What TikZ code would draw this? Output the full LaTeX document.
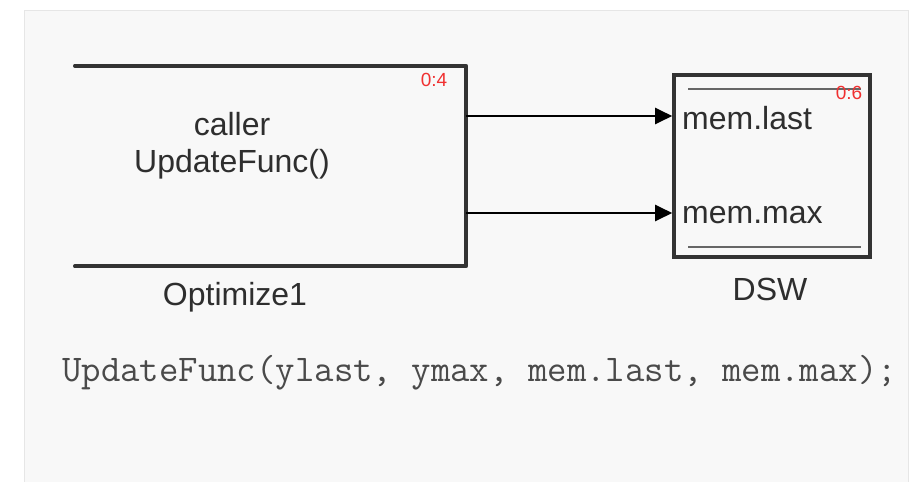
\documentclass[tikz,border=0pt]{standalone}
\usepackage{fontspec}
\setmainfont{Liberation Sans}
\usetikzlibrary{arrows.meta}
\definecolor{panel}{HTML}{F8F8F8}
\definecolor{panelline}{HTML}{E6E6E6}
\definecolor{blk}{HTML}{333333}
\definecolor{txt}{HTML}{2E2E2E}
\definecolor{codec}{HTML}{4A4A4A}
\definecolor{tagred}{HTML}{F03030}
\tikzset{
  blockedge/.style={draw=blk, line width=3.6pt, line cap=round, line join=round},
  innerline/.style={draw=blk!75, line width=2.4pt},
  arr/.style={draw=black, line width=2.2pt, -{Triangle[length=17pt,width=16pt]}},
  lbl/.style={text=txt, font=\fontsize{32}{36}\selectfont, inner sep=0pt},
  tag/.style={text=tagred, font=\fontsize{19}{21}\selectfont, inner sep=0pt},
  codetxt/.style={text=codec, font=\ttfamily\fontsize{37.7}{40}\selectfont, inner sep=0pt},
}
\begin{document}
\begin{tikzpicture}[x=1pt,y=-1pt]
\useasboundingbox (0,0) rectangle (920,482);
\fill[white] (0,0) rectangle (920,482);
\fill[panel] (24,10) rectangle (908,482);
\draw[panelline, line width=0.8pt] (24,482) -- (24,10) -- (908,10) -- (908,482);

% Optimize1 block (open on the left)
\node[minimum width=391pt, minimum height=200pt, inner sep=0pt] (opt) at (270.5,166) {};
\draw[blockedge] (opt.north west) -- (opt.north east) -- (opt.south east) -- (opt.south west);
\node[tag] (opttag) at (434,80) {0:4};
\node[lbl, align=center] (optname) at (232,146) {caller\\[1pt]UpdateFunc()};
\node[lbl] (optlabel) at (235,297) {Optimize1};

% DSW block
\node[draw=blk, line width=3.6pt, minimum width=196pt, minimum height=182pt, inner sep=0pt] (dsw) at (772,166) {};
\coordinate (tl) at (688,89);
\coordinate (tr) at (861,89);
\coordinate (bl) at (688,247);
\coordinate (br) at (861,247);
\draw[innerline] (tl) -- (tr);
\draw[innerline] (bl) -- (br);
\node[tag] (dswtag) at (849,93) {0:6};
\node[lbl, anchor=west] (plast) at (682,118) {mem.last};
\node[lbl, anchor=west] (pmax) at (682,215) {mem.max};
\node[lbl] (dswlabel) at (770,289) {DSW};

% connectors
\coordinate (y1) at (0,116);
\coordinate (y2) at (0,213);
\draw[arr] (opt.east |- y1) -- (dsw.west |- y1);
\draw[arr] (opt.east |- y2) -- (dsw.west |- y2);

% code line
\node[codetxt, anchor=west] (code) at (62,373) {UpdateFunc(ylast, ymax, mem.last, mem.max);};
\end{tikzpicture}
\end{document}
